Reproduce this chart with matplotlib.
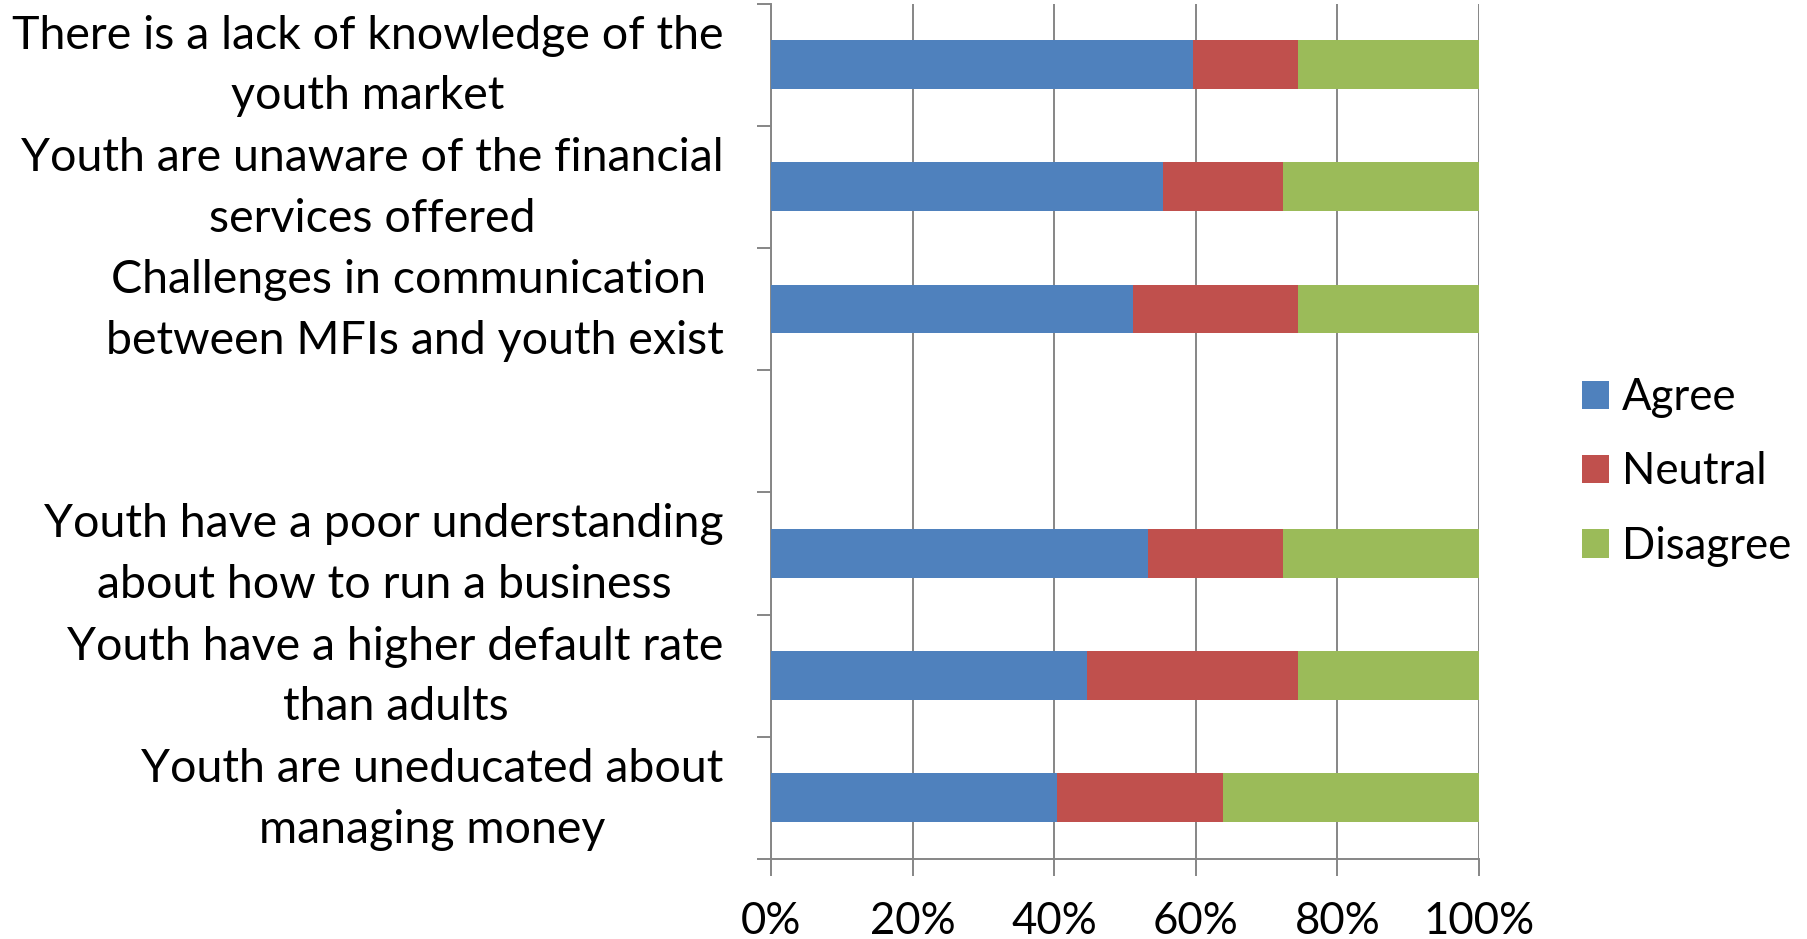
import numpy as np
import matplotlib
matplotlib.use("Agg")
import matplotlib.pyplot as plt
from matplotlib.ticker import FuncFormatter
from matplotlib.transforms import ScaledTranslation

plt.rcParams['font.family'] = ['Lato', 'DejaVu Sans']

# Survey statements (top to bottom); the blank entry is an empty row in the chart
categories = [
    "There is a lack of knowledge of the\nyouth market",
    "Youth are unaware of the financial\nservices offered",
    "Challenges in communication \nbetween MFIs and youth exist",
    "",
    "Youth have a poor understanding\nabout how to run a business",
    "Youth have a higher default rate\nthan adults",
    "Youth are uneducated about\nmanaging money",
]
agree = [59.6, 55.3, 51.1, np.nan, 53.2, 44.7, 40.4]
neutral = [14.9, 17.0, 23.4, np.nan, 19.1, 29.8, 23.4]
disagree = [25.5, 27.7, 25.5, np.nan, 27.7, 25.5, 36.2]

series_names = ["Agree", "Neutral", "Disagree"]
colors = ["#4F81BD", "#C0504D", "#9BBB59"]
xticks = [0, 20, 40, 60, 80, 100]

fig = plt.figure(figsize=(18.08, 9.39), dpi=100)
ax = fig.add_axes([771 / 1808, 1 - 859 / 939, (1479 - 771) / 1808, (859 - 3.5) / 939])

n = len(categories)
ypos = np.arange(n)
left = np.zeros(n)
for name, vals, col in zip(series_names, [agree, neutral, disagree], colors):
    v = np.array(vals, dtype=float)
    ax.barh(ypos, v / 100, left=left, height=0.4, color=col, label=name, zorder=3)
    left = left + np.nan_to_num(v) / 100

ax.set_xlim(0, 1)
ax.set_ylim(n - 0.5, -0.5)

grid_col = "#868686"
ax.set_xticks([t / 100 for t in xticks])
ax.xaxis.set_major_formatter(FuncFormatter(lambda x, p: f"{x * 100:.0f}%"))
ax.grid(axis='x', color=grid_col, linewidth=1.4, zorder=0)
ax.set_axisbelow(True)

# Category boundaries carry the tick marks; labels sit at the bar centres
ax.set_yticks(np.arange(n + 1) - 0.5)
ax.set_yticklabels([])
ax.set_yticks(ypos, categories, minor=True)
ax.tick_params(axis='y', which='minor', length=0, pad=34, labelsize=33.5)
ax.tick_params(axis='y', which='major', length=10, width=1.4, color=grid_col, direction='out')
ax.tick_params(axis='x', length=12, width=1.4, color=grid_col, direction='out', pad=18, labelsize=31.5)
lift = ScaledTranslation(0, 0.12, fig.dpi_scale_trans)
for lab in ax.get_yticklabels(minor=True):
    lab.set_multialignment('center')
    lab.set_linespacing(1.55)
    lab.set_transform(lab.get_transform() + lift)

for side in ['top', 'right']:
    ax.spines[side].set_visible(False)
for side in ['left', 'bottom']:
    ax.spines[side].set_color(grid_col)
    ax.spines[side].set_linewidth(1.4)

leg = fig.legend(loc='center left', bbox_to_anchor=(1582 / 1808, 1 - 472 / 939),
                 frameon=False, fontsize=31.5, handlelength=0.62, handleheight=0.62,
                 handletextpad=0.3, labelspacing=0.76, borderpad=0, borderaxespad=0)

fig.savefig("out.png", dpi=100, facecolor="white")
